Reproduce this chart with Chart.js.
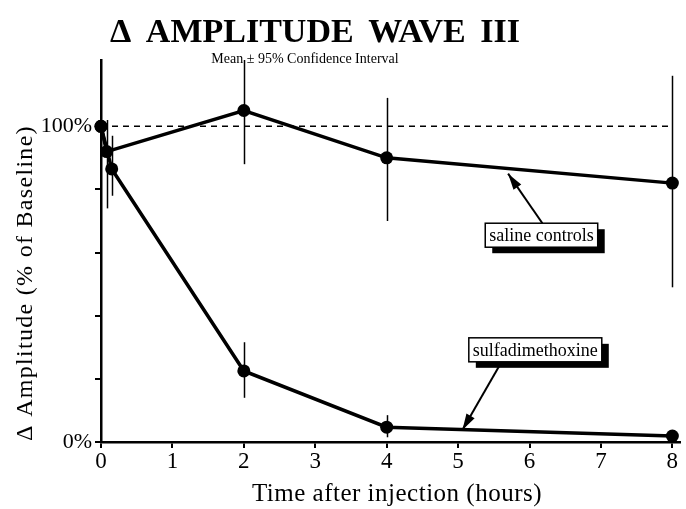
<!DOCTYPE html>
<html>
<head>
<meta charset="utf-8">
<script src="https://cdn.jsdelivr.net/npm/chart.js@4"></script>
<style>
  html, body { margin: 0; padding: 0; background: #fff; }
  #wrap { width: 686px; height: 509px; }
</style>
</head>
<body>
<div id="wrap"><canvas id="chart" width="686" height="509"></canvas></div>
<script>
// ---- data ---- //
const xTicks = [0, 1, 2, 3, 4, 5, 6, 7, 8];
const yTicks = [0, 20, 40, 60, 80, 100];
const yLabels = { 0: "0%", 100: "100%" };

const salineHours = [0, 0.08, 2, 4, 8];
const salineMean  = [100, 92, 105, 90, 82];
const salineLow   = [null, 74, 88, 70, 49];
const salineHigh  = [null, 102, 121, 109, 116];

const sulfaHours = [0, 0.15, 2, 4, 8];
const sulfaMean  = [100, 86.5, 22.5, 4.7, 1.9];
const sulfaLow   = [null, 78, 14, 1.5, 0.8];
const sulfaHigh  = [null, 97, 31.6, 8.5, 2.8];

const baseline = 100;

// callouts, anchored in data units
const callouts = [
    { text: "saline controls", x: 5.38, y: 69.3, tipX: 5.7, tipY: 85, tailDx: 0.8 },
    { text: "sulfadimethoxine", x: 5.15, y: 33, tipX: 5.06, tipY: 3.8, tailDx: 0.46, fromBottom: true }
];

const serif = "'Liberation Serif', 'DejaVu Serif', serif";

function toPoints(xs, ys) {
    return xs.map((x, i) => ({ x: x, y: ys[i] }));
}

// ---- error bars, dashed baseline, titles, callouts ---- //
const extras = {
    id: "extras",
    beforeDatasetsDraw(chart) {
        const { ctx, scales: { x, y } } = chart;
        ctx.save();
        // dashed 100% line
        ctx.strokeStyle = "#000";
        ctx.lineWidth = 1.5;
        ctx.setLineDash([6, 5]);
        ctx.beginPath();
        ctx.moveTo(x.getPixelForValue(0), y.getPixelForValue(baseline));
        ctx.lineTo(x.getPixelForValue(8), y.getPixelForValue(baseline));
        ctx.stroke();
        ctx.setLineDash([]);

        // error bars
        ctx.lineWidth = 1.5;
        const bars = [[salineHours, salineLow, salineHigh], [sulfaHours, sulfaLow, sulfaHigh]];
        bars.forEach(([hs, lo, hi]) => {
            hs.forEach((h, i) => {
                if (lo[i] == null) return;
                const px = Math.round(x.getPixelForValue(h)) + 0.5;
                ctx.beginPath();
                ctx.moveTo(px, y.getPixelForValue(lo[i]));
                ctx.lineTo(px, y.getPixelForValue(hi[i]));
                ctx.stroke();
            });
        });
        ctx.restore();
    },
    afterDraw(chart) {
        const { ctx, scales: { x, y } } = chart;
        ctx.save();
        ctx.fillStyle = "#000";
        ctx.textAlign = "center";
        ctx.textBaseline = "alphabetic";

        ctx.font = "bold 34px " + serif;
        ctx.wordSpacing = "6px";
        ctx.fillText("\u0394 AMPLITUDE WAVE III", 315, 42);
        ctx.wordSpacing = "0px";

        ctx.font = "14px " + serif;
        ctx.fillText("Mean \u00b1 95% Confidence Interval", 305, 63);

        // x axis title
        ctx.font = "25px " + serif;
        ctx.letterSpacing = "0.5px";
        ctx.fillText("Time after injection (hours)", 397, 501);

        // y axis title
        ctx.save();
        ctx.translate(32, 283);
        ctx.rotate(-Math.PI / 2);
        ctx.font = "24px " + serif;
        ctx.letterSpacing = "1.3px";
        ctx.fillText("\u0394 Amplitude (% of Baseline)", 0, 0);
        ctx.restore();
        ctx.letterSpacing = "0px";

        // callout boxes
        ctx.font = "18px " + serif;
        ctx.textAlign = "left";
        callouts.forEach(c => {
            const bx = x.getPixelForValue(c.x);
            const by = y.getPixelForValue(c.y);
            const w = ctx.measureText(c.text).width + 8;
            const h = 24;
            const tipx = x.getPixelForValue(c.tipX);
            const tipy = y.getPixelForValue(c.tipY);
            const tailx = x.getPixelForValue(c.x + c.tailDx);
            const taily = c.fromBottom ? by + h : by;

            // arrow
            ctx.strokeStyle = "#000";
            ctx.lineWidth = 2;
            ctx.beginPath();
            ctx.moveTo(tailx, taily);
            ctx.lineTo(tipx, tipy);
            ctx.stroke();
            const ang = Math.atan2(tipy - taily, tipx - tailx);
            const len = 17, spread = 0.28;
            ctx.beginPath();
            ctx.moveTo(tipx, tipy);
            ctx.lineTo(tipx - len * Math.cos(ang - spread), tipy - len * Math.sin(ang - spread));
            ctx.lineTo(tipx - len * Math.cos(ang + spread), tipy - len * Math.sin(ang + spread));
            ctx.closePath();
            ctx.fill();

            // shadow + box
            ctx.fillRect(bx + 7, by + 6, w, h);
            ctx.fillStyle = "#fff";
            ctx.fillRect(bx, by, w, h);
            ctx.lineWidth = 1.5;
            ctx.strokeRect(bx, by, w, h);
            ctx.fillStyle = "#000";
            ctx.fillText(c.text, bx + 4, by + 18);
        });
        ctx.restore();
    }
};

const ctx = document.getElementById("chart");
const chart = new Chart(ctx, {
    type: "line",
    data: {
        datasets: [
            {
                label: "saline controls",
                data: toPoints(salineHours, salineMean),
                borderColor: "#000",
                backgroundColor: "#000",
                borderWidth: 3.5,
                pointRadius: 6.5,
                pointBackgroundColor: "#000",
                pointBorderWidth: 0,
                tension: 0,
                fill: false
            },
            {
                label: "sulfadimethoxine",
                data: toPoints(sulfaHours, sulfaMean),
                borderColor: "#000",
                backgroundColor: "#000",
                borderWidth: 3.5,
                pointRadius: 6.5,
                pointBackgroundColor: "#000",
                pointBorderWidth: 0,
                tension: 0,
                fill: false
            }
        ]
    },
    options: {
        responsive: false,
        animation: false,
        clip: false,
        layout: { padding: { top: 60, right: 6, left: 0, bottom: 0 } },
        plugins: {
            legend: { display: false },
            tooltip: { enabled: false },
            title: { display: false }
        },
        scales: {
            x: {
                type: "linear",
                min: 0,
                max: 8.1,
                afterBuildTicks: s => { s.ticks = xTicks.map(v => ({ value: v })); },
                afterFit: s => { s.height = 67; },
                border: { color: "#000", width: 2.5 },
                grid: { drawOnChartArea: false, drawTicks: true, tickLength: 6, color: "#000", lineWidth: 2 },
                ticks: {
                    color: "#000",
                    padding: 0,
                    font: { family: serif, size: 23 },
                    callback: v => String(v)
                }
            },
            y: {
                min: 0,
                max: 121,
                afterBuildTicks: s => { s.ticks = yTicks.map(v => ({ value: v })); },
                afterFit: s => { s.width = 101; },
                border: { color: "#000", width: 2.5 },
                grid: { drawOnChartArea: false, drawTicks: true, tickLength: 6, color: "#000", lineWidth: 2 },
                ticks: {
                    color: "#000",
                    padding: 3,
                    font: { family: serif, size: 22 },
                    callback: v => yLabels[v] || ""
                }
            }
        }
    },
    plugins: [extras]
});
</script>
</body>
</html>
